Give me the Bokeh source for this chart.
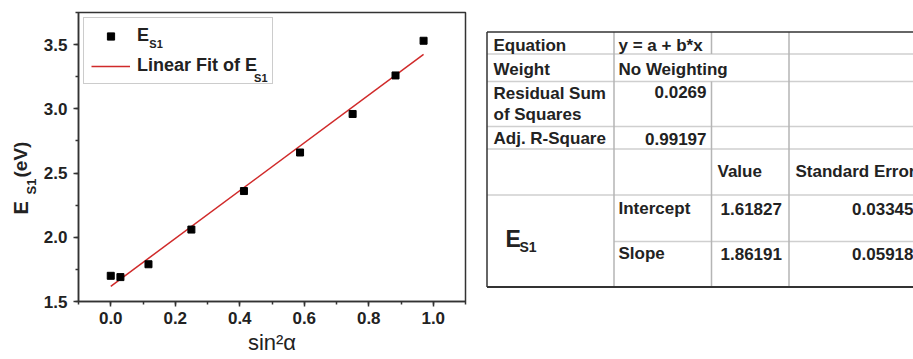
import numpy as np
from bokeh.plotting import figure
from bokeh.models import (Range1d, SingleIntervalTicker, Label, Legend, LegendItem,
                          ColumnDataSource, PrintfTickFormatter)
from bokeh.layouts import row
from bokeh.embed import file_html
from bokeh.resources import INLINE
from bokeh.core.properties import value

# ---------------- data ----------------
sin2_alpha = [0.0, 0.030, 0.117, 0.250, 0.413, 0.587, 0.750, 0.883, 0.970]
e_s1 = [1.70, 1.69, 1.79, 2.06, 2.36, 2.66, 2.96, 3.26, 3.53]

fit_equation = "y = a + b*x"
fit_weight = "No Weighting"
residual_ss = 0.0269
adj_r_square = 0.99197
fit_terms = ["Intercept", "Slope"]
fit_values = [1.61827, 1.86191]
fit_std_errors = [0.03345, 0.05918]

FONT = value("Liberation Sans")
DARK = "#222222"

H = 359
BT, BB = 12, 58                 # frame top / bottom borders shared by every panel
FRAME_TOP, FRAME_BOT = BT, H - BB

# ---------------- y-label panel ----------------
WL = 40
lf = figure(width=WL, height=H, x_range=Range1d(0, WL), y_range=Range1d(FRAME_BOT, FRAME_TOP),
            output_backend="svg", toolbar_location=None, min_border_left=0, min_border_right=0,
            min_border_top=BT, min_border_bottom=BB, x_axis_location=None, y_axis_location=None)
lf.grid.visible = False
lf.outline_line_color = None


def vtext(fig, x, y, s, size):
    fig.text(x=[x], y=[y], text=[s], angle=np.pi / 2, text_align="left", text_baseline="middle",
             text_font=FONT, text_font_size=value(size), text_font_style="bold", text_color=DARK)


vtext(lf, 20, 214, "E", "20px")
vtext(lf, 31, 194, "S1", "13px")
vtext(lf, 20, 177, "(eV)", "19px")

# ---------------- chart ----------------
W1 = 430
BL, BR = 37, 5
X0, X1, Y0, Y1 = -0.1, 1.1, 1.5, 3.75
ABS_LEFT = WL + BL
FW, FH = W1 - BL - BR, H - BT - BB

p = figure(width=W1, height=H, x_range=Range1d(X0, X1), y_range=Range1d(Y0, Y1),
           output_backend="svg", toolbar_location=None,
           min_border_left=BL, min_border_right=BR, min_border_top=BT, min_border_bottom=BB)
p.grid.visible = False
p.outline_line_color = "#333333"
p.outline_line_width = 1.5

p.xaxis.ticker = SingleIntervalTicker(interval=0.2, num_minor_ticks=2)
p.yaxis.ticker = SingleIntervalTicker(interval=0.5, num_minor_ticks=2)
p.xaxis.formatter = PrintfTickFormatter(format="%.1f")
p.yaxis.formatter = PrintfTickFormatter(format="%.1f")
for ax in (p.xaxis, p.yaxis):
    ax.axis_line_color = "#333333"
    ax.axis_line_width = 1.5
    ax.major_tick_line_color = "#333333"
    ax.minor_tick_line_color = "#333333"
    ax.major_tick_line_width = 1.5
    ax.minor_tick_line_width = 1.5
    ax.major_tick_in = 0
    ax.major_tick_out = 5
    ax.minor_tick_in = 0
    ax.minor_tick_out = 3
    ax.major_label_text_font = "Liberation Sans"
    ax.major_label_text_font_size = "17px"
    ax.major_label_text_font_style = "bold"
    ax.major_label_text_color = DARK
    ax.major_label_standoff = 6
p.xaxis.major_label_standoff = 5

p.xaxis.axis_label = "sin²α"
p.xaxis.axis_label_text_font = "Liberation Sans"
p.xaxis.axis_label_text_font_size = "22px"
p.xaxis.axis_label_text_font_style = "normal"
p.xaxis.axis_label_text_color = DARK
p.xaxis.axis_label_standoff = 3

x_fit = np.array([min(sin2_alpha), max(sin2_alpha)])
y_fit = fit_values[0] + fit_values[1] * x_fit
r_fit = p.line(x_fit, y_fit, line_color="#d02a2a", line_width=1.5)
r_pts = p.scatter(sin2_alpha, e_s1, marker="square", size=7, color="black")


def fx(px):
    return X0 + (px - ABS_LEFT) / FW * (X1 - X0)


def fy(py):
    return Y0 + (FRAME_BOT - py) / FH * (Y1 - Y0)


# subscripts of the legend labels (drawn beneath a transparent legend box)
for sx, sy in ((148, 43), (253, 77)):
    p.add_layout(Label(x=fx(sx), y=fy(sy), text="S1", text_font="Liberation Sans",
                       text_font_size="11px", text_font_style="bold", text_color=DARK,
                       text_align="left", text_baseline="middle"))

legend = Legend(items=[LegendItem(label="E", renderers=[r_pts]),
                       LegendItem(label="Linear Fit of E", renderers=[r_fit])],
                location=(5, 217), margin=0, padding=7, spacing=9,
                glyph_width=39, glyph_height=18, label_height=18, label_width=128,
                label_standoff=7, label_text_font="Liberation Sans",
                label_text_font_size="18px", label_text_font_style="bold",
                label_text_color=DARK, border_line_color="#999999", border_line_width=1,
                background_fill_alpha=0.0)
p.add_layout(legend)

# ---------------- table ----------------
W2 = 913 - WL - W1
T0 = WL + W1
t = figure(width=W2, height=H, x_range=Range1d(T0, 913), y_range=Range1d(FRAME_BOT, FRAME_TOP),
           output_backend="svg", toolbar_location=None, min_border_left=0, min_border_right=0,
           min_border_top=BT, min_border_bottom=BB,
           x_axis_location=None, y_axis_location=None)
t.grid.visible = False
t.outline_line_color = None

TL, TR, TT, TB = 486.5, 920, 31.5, 286.5
C1, C2, C3 = 613.5, 711, 788.5
R = [53.5, 81, 126, 148.5, 194.5]
R_MID = 241

hx0 = [TL] * len(R) + [C1]
hx1 = [TR] * len(R) + [TR]
hy = R + [R_MID]
t.segment(x0=hx0, y0=hy, x1=hx1, y1=hy, line_color="#cfcfcf", line_width=1.5)
vx = [C1, C2, C2, C3]
vy0 = [TT, TT, R[1], TT]
vy1 = [TB, R[0], TB, TB]
t.segment(x0=vx, y0=vy0, x1=vx, y1=vy1, line_color="#b5b5b5", line_width=1.5)
t.segment(x0=[TL, TL, TL], y0=[TT, TB, TT], x1=[TR, TR, TL], y1=[TT, TB, TB],
          line_color="#333333", line_width=[1.5, 2.0, 1.5])

TX1, TX2, TX3, TX4 = 493, 618, 717, 795
left_items = [
    ("Equation", TX1, 45), ("Weight", TX1, 69), ("Residual Sum", TX1, 93),
    ("of Squares", TX1, 114), ("Adj. R-Square", TX1, 138),
    (fit_equation, TX2, 45), (fit_weight, TX2, 69),
    ("Value", TX3, 171), ("Standard Error", TX4, 171),
    (fit_terms[0], TX2, 208), (fit_terms[1], TX2, 253),
    (f"{fit_values[0]:.5f}", 720, 208), (f"{fit_values[1]:.5f}", 720, 253),
]
right_items = [
    (f"{residual_ss}", 706, 91), (f"{adj_r_square}", 706, 138),
    (f"{fit_std_errors[0]:.5f}", 913, 208), (f"{fit_std_errors[1]:.5f}", 913, 253),
]
for items, align in ((left_items, "left"), (right_items, "right")):
    src = ColumnDataSource(dict(text=[i[0] for i in items], x=[i[1] for i in items],
                                y=[i[2] for i in items]))
    t.text(x="x", y="y", text="text", source=src, text_align=align, text_baseline="middle",
           text_font=FONT, text_font_size=value("17px"), text_font_style="bold",
           text_color=DARK)

t.text(x=[505], y=[238], text=["E"], text_align="left", text_baseline="middle",
       text_font=FONT, text_font_size=value("23px"), text_font_style="bold", text_color=DARK)
t.text(x=[519], y=[246], text=["S1"], text_align="left", text_baseline="middle",
       text_font=FONT, text_font_size=value("14px"), text_font_style="bold", text_color=DARK)

layout = row(lf, p, t, spacing=0)
open("out.html", "w").write(file_html(layout, INLINE))
